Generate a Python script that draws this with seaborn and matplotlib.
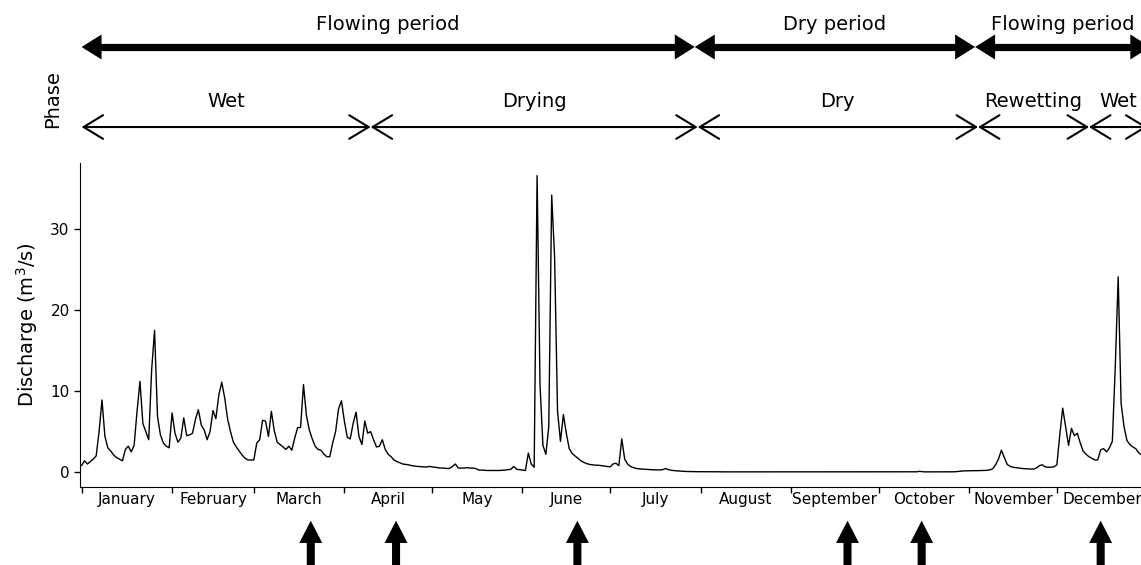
import numpy as np
import pandas as pd
import matplotlib
matplotlib.use('Agg')
import matplotlib.pyplot as plt
import seaborn as sns
from matplotlib.ticker import NullFormatter

# daily discharge (m3/s), one list per month
q_jan = [0.8, 1.4, 1.0, 1.3, 1.6, 2.0, 5.0, 8.9, 4.4, 3.0,
         2.6, 2.1, 1.8, 1.6, 1.4, 2.8, 3.2, 2.5, 3.3, 7.5,
         11.2, 6.0, 5.0, 4.0, 12.6, 17.5, 6.9, 4.6, 3.6, 3.2, 3.0]
q_feb = [7.3, 4.8, 3.7, 4.2, 6.7, 4.5, 4.6, 4.8, 6.5, 7.7,
         5.8, 5.2, 4.0, 5.0, 7.6, 6.6, 9.5, 11.1, 9.2, 6.6,
         5.0, 3.7, 3.1, 2.6, 2.1, 1.7, 1.5, 1.5]
q_mar = [1.5, 3.6, 4.0, 6.4, 6.3, 4.4, 7.5, 5.1, 3.7, 3.4,
         3.1, 2.8, 3.2, 2.7, 4.2, 5.5, 5.5, 10.8, 7.0, 5.2,
         4.1, 3.2, 2.8, 2.7, 2.2, 1.9, 1.9, 3.6, 5.0, 7.8, 8.8]
q_apr = [6.3, 4.3, 4.1, 6.0, 7.4, 4.4, 3.4, 6.3, 4.8, 5.0,
         4.0, 3.1, 3.2, 4.0, 2.8, 2.2, 1.9, 1.5, 1.3, 1.15,
         1.0, 0.95, 0.9, 0.8, 0.75, 0.7, 0.68, 0.65, 0.62, 0.7]
q_may = [0.65, 0.6, 0.55, 0.5, 0.5, 0.45, 0.45, 0.7, 1.0, 0.5,
         0.5, 0.5, 0.55, 0.5, 0.5, 0.45, 0.25, 0.25, 0.22, 0.2,
         0.2, 0.2, 0.2, 0.2, 0.22, 0.25, 0.3, 0.35, 0.7, 0.35, 0.3]
q_jun = [0.25, 0.2, 2.35, 1.0, 0.6, 36.6, 10.8, 3.3, 2.2, 5.6,
         34.2, 26.5, 7.5, 3.8, 7.1, 4.8, 2.9, 2.3, 2.0, 1.7,
         1.4, 1.2, 1.05, 0.95, 0.9, 0.85, 0.85, 0.8, 0.75, 0.7]
q_jul = [0.65, 1.0, 1.1, 0.8, 4.1, 1.6, 1.0, 0.7, 0.55, 0.45,
         0.4, 0.38, 0.35, 0.32, 0.3, 0.28, 0.27, 0.27, 0.3, 0.45,
         0.3, 0.22, 0.18, 0.15, 0.12, 0.1, 0.08, 0.07, 0.06, 0.05, 0.05]
q_aug = [0.05, 0.05, 0.04, 0.04, 0.04, 0.04, 0.04, 0.03, 0.03, 0.03,
         0.03, 0.03, 0.03, 0.03, 0.03, 0.03, 0.03, 0.03, 0.03, 0.03,
         0.03, 0.03, 0.03, 0.03, 0.03, 0.03, 0.03, 0.03, 0.03, 0.03, 0.03]
q_sep = [0.03, 0.03, 0.03, 0.03, 0.03, 0.03, 0.03, 0.03, 0.03, 0.03,
         0.02, 0.02, 0.02, 0.02, 0.02, 0.02, 0.02, 0.02, 0.02, 0.02,
         0.02, 0.02, 0.02, 0.02, 0.02, 0.02, 0.02, 0.02, 0.02, 0.02]
q_oct = [0.02, 0.02, 0.02, 0.02, 0.02, 0.02, 0.02, 0.02, 0.02, 0.02,
         0.02, 0.02, 0.03, 0.04, 0.10, 0.05, 0.03, 0.03, 0.03, 0.03,
         0.03, 0.03, 0.03, 0.03, 0.04, 0.04, 0.04, 0.08, 0.12, 0.15, 0.16]
q_nov = [0.16, 0.17, 0.18, 0.18, 0.2, 0.2, 0.22, 0.28, 0.4, 0.9,
         1.6, 2.7, 1.8, 0.95, 0.7, 0.6, 0.55, 0.5, 0.45, 0.42,
         0.4, 0.38, 0.38, 0.5, 0.8, 0.9, 0.65, 0.6, 0.6, 0.65]
q_dec = [0.9, 4.6, 7.9, 5.6, 3.3, 5.4, 4.5, 4.8, 3.6, 2.6,
         2.2, 1.9, 1.7, 1.5, 1.5, 2.75, 2.9, 2.5, 3.0, 3.8,
         13.0, 24.1, 8.5, 5.6, 3.9, 3.4, 3.1, 2.9, 2.4, 2.1, 1.9]

months = ['January', 'February', 'March', 'April', 'May', 'June', 'July',
          'August', 'September', 'October', 'November', 'December']
month_days = [31, 28, 31, 30, 31, 30, 31, 31, 30, 31, 30, 31]

periods = ['Flowing period', 'Dry period', 'Flowing period']
period_bounds = [0, 210, 306, 366]
phases = ['Wet', 'Drying', 'Dry', 'Rewetting', 'Wet']
phase_bounds = [0, 99, 211, 307, 345, 365]
sampling_days = [78.5, 107.7, 169.8, 262.3, 287.7, 349.0]

discharge = np.concatenate([q_jan, q_feb, q_mar, q_apr, q_may, q_jun,
                            q_jul, q_aug, q_sep, q_oct, q_nov, q_dec])
df = pd.DataFrame({'day': np.arange(len(discharge)), 'discharge': discharge})

sns.set_style('ticks', {'axes.edgecolor': 'black', 'text.color': 'black',
                        'xtick.color': 'black', 'ytick.color': 'black',
                        'axes.labelcolor': 'black'})
plt.rcParams['font.family'] = ['DejaVu Sans']

fig = plt.figure(figsize=(11.41, 5.65), dpi=100)
ax = fig.add_axes([0.0702, 0.1386, 0.9354, 0.5735])
sns.lineplot(data=df, x='day', y='discharge', color='black', linewidth=1.0, ax=ax)
sns.despine(ax=ax)

ax.set_xlim(-0.5, 365)
ax.set_ylim(-1.8, 38.2)
ax.set_yticks([0, 10, 20, 30])
ax.tick_params(axis='y', labelsize=11, length=4, width=1)

starts = np.cumsum([0] + month_days[:-1])
mids = starts + np.array(month_days) / 2
ax.set_xticks(starts)
ax.xaxis.set_major_formatter(NullFormatter())
ax.set_xticks(mids, minor=True)
ax.set_xticklabels(months, minor=True, fontsize=11)
ax.tick_params(axis='x', which='major', length=4, width=1)
ax.tick_params(axis='x', which='minor', length=0, pad=4)

ax.set_xlabel('')
ax.set_ylabel('Discharge (m$^3$/s)', fontsize=14)
ax.yaxis.set_label_coords(-0.038, 0.5)

trans = ax.get_xaxis_transform()

# periods: thick shaft + filled heads
y_per, y_per_txt = 1.357, 1.425
px_per_day = ax.transData.transform((1, 0))[0] - ax.transData.transform((0, 0))[0]
head_len_pt = 14.4
head_days = head_len_pt * fig.dpi / 72 / px_per_day
for name, a, b in zip(periods, period_bounds[:-1], period_bounds[1:]):
    ax.plot([a + 0.7 * head_days, b - 0.7 * head_days], [y_per, y_per], transform=trans,
            color='black', lw=5.2, solid_capstyle='butt', clip_on=False)
    for end, inner in ((a, a + head_days), (b, b - head_days)):
        ax.annotate('', xy=(end, y_per), xycoords=trans, xytext=(inner, y_per), textcoords=trans,
                    arrowprops=dict(arrowstyle='-|>,head_length=1.44,head_width=0.9',
                                    mutation_scale=10, fc='black', ec='black', lw=0,
                                    shrinkA=0, shrinkB=0),
                    annotation_clip=False)
    ax.text((a + b) / 2, y_per_txt, name, transform=trans, ha='center', va='center', fontsize=14)

# phases: thin open double arrows
y_ph, y_ph_txt = 1.110, 1.190
for name, a, b in zip(phases, phase_bounds[:-1], phase_bounds[1:]):
    ax.annotate('', xy=(b, y_ph), xycoords=trans, xytext=(a, y_ph), textcoords=trans,
                arrowprops=dict(arrowstyle='<->,head_length=1.4,head_width=0.85',
                                mutation_scale=10, color='black', lw=1.5,
                                shrinkA=0, shrinkB=0),
                annotation_clip=False)
    ax.text((a + b) / 2, y_ph_txt, name, transform=trans, ha='center', va='center', fontsize=14)

ax.text(-0.026, 1.195, 'Phase', transform=ax.transAxes, rotation=90,
        ha='center', va='center', fontsize=14)

# sampling dates
simple_up = 'simple,head_length=1.6,head_width=1.65,tail_width=0.58'
for d in sampling_days:
    ax.annotate('', xy=(d, -0.105), xycoords=trans, xytext=(d, -0.28), textcoords=trans,
                arrowprops=dict(arrowstyle=simple_up, mutation_scale=10, fc='black',
                                ec='none', shrinkA=0, shrinkB=0),
                annotation_clip=False)

fig.savefig('out.png', dpi=100)
